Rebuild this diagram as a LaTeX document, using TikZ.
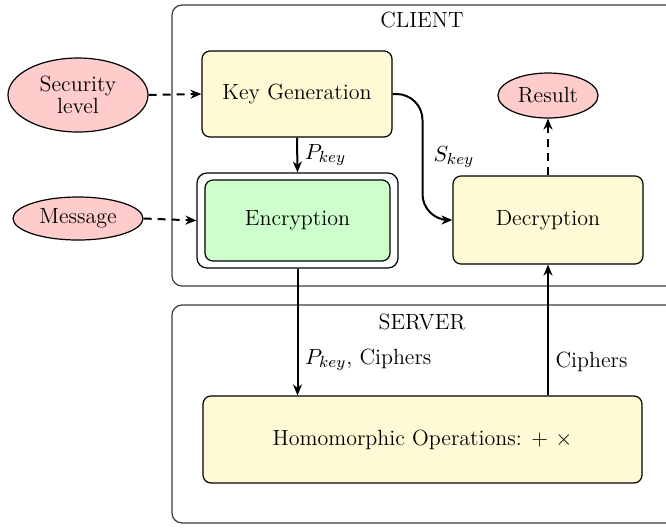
\documentclass[tikz,border=0pt]{standalone}
\usetikzlibrary{arrows.meta,shapes.geometric,calc}
\definecolor{kyellow}{RGB}{255,250,214}
\definecolor{kgreen}{RGB}{204,255,204}
\definecolor{kpink}{RGB}{255,204,204}
\definecolor{kframe}{RGB}{60,60,60}
\begin{document}
\begin{tikzpicture}[x=0.5pt,y=-0.5pt,
  font=\fontsize{11}{13}\selectfont,
  procbox/.style={draw=black, rounded corners=4pt, fill=kyellow, line width=0.6pt, inner sep=0pt, align=center},
  inbox/.style={ellipse, draw=black, fill=kpink, line width=0.6pt, inner sep=0pt, align=center},
  frame/.style={draw=kframe, rounded corners=5pt, line width=0.6pt},
  flow/.style={line width=1pt, -{Stealth[length=5.5pt,width=4.5pt]}},
  dflow/.style={flow, dash pattern=on 4pt off 3pt}]
\useasboundingbox (0,0) rectangle (666,527);
\clip (0,0) rectangle (666,527);
% containers
\draw[frame] (172,5) rectangle (720,286);
\draw[frame] (172,305) rectangle (720,523);
\node (client) at (422,20) {CLIENT};
\node (server) at (422,322) {SERVER};
% nodes
\node[procbox, minimum width=95pt, minimum height=43pt] (kg) at (297,94) {Key Generation};
\node[draw=black, fill=white, rounded corners=5pt, line width=0.6pt, minimum width=100.5pt, minimum height=47.5pt] (encO) at (297.5,220.5) {};
\node[procbox, fill=kgreen, minimum width=92.5pt, minimum height=40.5pt] (enc) at (297.5,220.5) {Encryption};
\node[procbox, minimum width=95pt, minimum height=44pt] (dec) at (548,220) {Decryption};
\node[procbox, minimum width=219.5pt, minimum height=43.5pt] (hom) at (422.5,439.5) {Homomorphic Operations: + $\times$};
\node[inbox, minimum width=70pt, minimum height=37pt] (sec) at (78,95) {Security\\[-2pt]level};
\node[inbox, minimum width=65pt, minimum height=21.5pt] (msg) at (78,218.5) {Message};
\node[inbox, minimum width=50pt, minimum height=22.5pt] (res) at (548,95.5) {Result};
% connectors
\draw[dflow] (sec.east) -- (kg.west);
\draw[dflow] (msg.east) -- (encO.west);
\draw[flow] (kg.south) -- node[right] {$P_{key}$} (encO.north);
\draw[flow, rounded corners=13pt] (kg.east) -| ($(kg.east)!0.5!(dec.west)$) |- (dec.west);
\node[right, xshift=2pt] (skey) at ($(kg.east)!0.5!(dec.west)$) {$S_{key}$};
\draw[dflow] (dec.north) -- (res.south);
\draw[flow] (encO.south) -- node[right, pos=0.72] {$P_{key}$, Ciphers} (hom.north -| encO.south);
\draw[flow] (hom.north -| dec.south) -- node[right, pos=0.26] {Ciphers} (dec.south);
\end{tikzpicture}
\end{document}
